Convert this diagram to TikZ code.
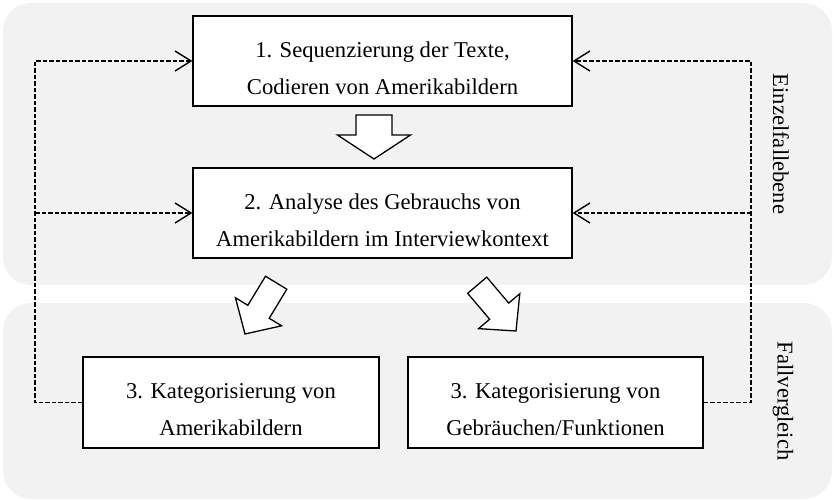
\documentclass[tikz,border=0pt]{standalone}
\usepackage{fontspec}
\setmainfont{Liberation Serif}
\usetikzlibrary{arrows.meta}

\definecolor{panelgray}{RGB}{242,242,242}

% Blockpfeil: Spitze bei (#1), Richtung #2, Laenge #3, Schaft #4, Kopf #5, Kopflaenge #6
\newcommand{\blockpfeil}[6]{%
  \begin{scope}[shift={(#1)}, rotate=#2]
    \draw [line width=1.3bp, fill=white, line join=miter]
      (0,0) -- (-#6,#5) -- (-#6,#4) -- (-#3,#4) -- (-#3,-#4)
      -- (-#6,-#4) -- (-#6,-#5) -- cycle;
  \end{scope}}

\begin{document}
\begin{tikzpicture}[x=1bp, y=-1bp,
    every node/.style={font=\fontsize{22.6bp}{37bp}\selectfont},
    schritt/.style={draw, fill=white, line width=1.3bp, align=center, inner sep=0pt},
    ebene/.style={fill=panelgray, rounded corners=28bp},
    rueck/.style={line width=1.4bp, dash pattern=on 4.5bp off 2bp},
    spitze/.style={-{Straight Barb[length=16bp, width=20bp]}}]

  \useasboundingbox (0,0) rectangle (834,501);

  % Hintergrund: Einzelfallebene und Fallvergleich
  \fill [ebene] (3,3) rectangle (832,285);
  \fill [ebene] (3,303) rectangle (832,499);

  \node [rotate=-90] (einzel) at (781,144) {Einzelfallebene};
  \node [rotate=-90] (vergl) at (783,401) {Fallvergleich};

  % Arbeitsschritte
  \node [schritt, minimum width=379bp, minimum height=90bp] (s1) at (382.5,61)
    {\rule{0pt}{30bp}1. Sequenzierung der Texte,\\Codieren von Amerikabildern};
  \node [schritt, minimum width=379bp, minimum height=90bp] (s2) at (382.5,213)
    {\rule{0pt}{30bp}2. Analyse des Gebrauchs von\\Amerikabildern im Interviewkontext};
  \node [schritt, minimum width=296bp, minimum height=91bp] (k1) at (231,402.5)
    {\rule{0pt}{30bp}3. Kategorisierung von\\Amerikabildern};
  \node [schritt, minimum width=295bp, minimum height=91bp] (k2) at (555.5,402.5)
    {\rule{0pt}{30bp}3. Kategorisierung von\\Gebräuchen/Funktionen};

  % Blockpfeile
  \blockpfeil{374,159}{-90}{44}{18}{36.5}{24}
  \blockpfeil{245,334}{-121.3}{60}{12.5}{27}{26}
  \blockpfeil{516,331}{-49.7}{60}{12.5}{27}{26}

  % Rueckkopplung (gestrichelt)
  \coordinate (links) at (35,0);
  \coordinate (rechts) at (751,0);

  \draw [rueck, spitze] (k1.west) -- (k1.west -| links) |- (s1.west);
  \draw [rueck, spitze] (s2.west -| links) -- (s2.west);

  \draw [rueck, spitze] (k2.east) -- (k2.east -| rechts) |- (s1.east);
  \draw [rueck, spitze] (s2.east -| rechts) -- (s2.east);

\end{tikzpicture}
\end{document}
